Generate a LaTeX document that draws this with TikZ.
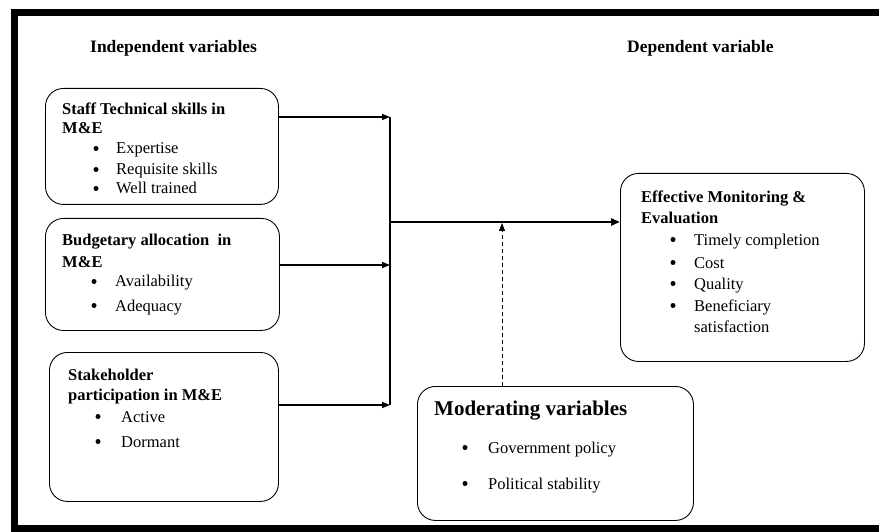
\documentclass[tikz,border=0pt]{standalone}
\usepackage{fontspec}
\setmainfont{Liberation Serif}
\usetikzlibrary{arrows.meta,positioning}

\tikzset{
  varbox/.style={draw, rounded corners=18pt, line width=0.9pt, inner sep=0pt, anchor=north west},
  headtext/.style={anchor=base west, inner sep=0pt, font=\fontsize{16.5}{20}\selectfont\bfseries},
  titletext/.style={anchor=base west, inner sep=0pt, font=\fontsize{17.5}{21}\selectfont\bfseries},
  itemtext/.style={anchor=base west, inner sep=0pt, font=\fontsize{16.5}{20}\selectfont},
  dot/.style={circle, fill, inner sep=0pt, minimum size=5pt},
  link/.style={-{Triangle[length=8pt,width=6pt]}, line width=1.4pt},
  mainlink/.style={-{Triangle[length=9pt,width=7pt]}, line width=2.2pt}
}

\begin{document}
\begin{tikzpicture}[x=1pt,y=-1pt]
		\useasboundingbox (0,0) rectangle (879,532);
		% Frame
		\draw[line width=7pt] (879,12.5) -- (14.5,12.5) -- (14.5,528.5) -- (879,528.5);
		% Titles
		\node[titletext] (indep) at (90,53) {Independent variables};
		\node[titletext] (dep) at (627,53) {Dependent variable};
		% Boxes
		\node[varbox, minimum width=233pt, minimum height=116pt] (staff) at (45,88) {};
		\node[varbox, minimum width=234pt, minimum height=112pt] (budget) at (45,218) {};
		\node[varbox, minimum width=229pt, minimum height=149pt] (stake) at (49,352) {};
		\node[varbox, minimum width=276pt, minimum height=134pt] (moder) at (417,386) {};
		\node[varbox, minimum width=244pt, minimum height=188pt] (effect) at (620,173) {};
		% Staff technical skills
		\node[headtext] (stafftop) at (62,115) {Staff Technical skills in};
		\node[headtext] (staffme) at (62,134) {M\&E};
		\foreach \i/\y/\txt in {1/154/Expertise, 2/175/Requisite skills, 3/194/Well trained} {
			\node[dot] (staffdot\i) at (96,{\y-5.5}) {};
			\node[itemtext] (staffitem\i) at (116,\y) {\txt};
		}
		% Budgetary allocation
		\node[headtext] (budgettop) at (62,245) {Budgetary allocation\ \ in};
		\node[headtext] (budgetme) at (62,267) {M\&E};
		\foreach \i/\y/\txt in {1/287/Availability, 2/311/Adequacy} {
			\node[dot] (budgetdot\i) at (94,{\y-5.5}) {};
			\node[itemtext] (budgetitem\i) at (115,\y) {\txt};
		}
		% Stakeholder participation
		\node[headtext] (staketop) at (68,380) {Stakeholder};
		\node[headtext] (stakeme) at (68,400) {participation in M\&E};
		\foreach \i/\y/\txt in {1/422/Active, 2/447/Dormant} {
			\node[dot] (stakedot\i) at (98,{\y-5.5}) {};
			\node[itemtext] (stakeitem\i) at (121,\y) {\txt};
		}
		% Moderating variables
		\node[headtext, font=\fontsize{21}{25}\selectfont\bfseries] (modertop) at (434,415) {Moderating variables};
		\foreach \i/\y/\txt in {1/453/Government policy, 2/489/Political stability} {
			\node[dot] (moderdot\i) at (465,{\y-5.5}) {};
			\node[itemtext] (moderitem\i) at (488,\y) {\txt};
		}
		% Effective M&E
		\node[headtext] (effecttop) at (641,203) {Effective Monitoring \&};
		\node[headtext] (effectev) at (641,223) {Evaluation};
		\foreach \i/\y/\txt in {1/245/Timely completion, 2/268/Cost, 3/289/Quality, 4/311/Beneficiary} {
			\node[dot] (effectdot\i) at (673,{\y-5.5}) {};
			\node[itemtext] (effectitem\i) at (694,\y) {\txt};
		}
		\node[itemtext] (effectitem5) at (694,332) {satisfaction};
		% Edges
		\coordinate (joinA) at (390,117);
		\coordinate (joinB) at (390,265);
		\coordinate (joinC) at (390,405);
		\coordinate (joinM) at (390,222);
		\coordinate (modjoin) at (502,223);
		\draw[link] (joinA -| staff.east) -- (joinA);
		\draw[link] (joinB -| budget.east) -- (joinB);
		\draw[link] (joinC -| stake.east) -- (joinC);
		\draw[line width=1.4pt] (joinA) -- (joinC);
		\draw[mainlink] (joinM) -- (joinM -| effect.west);
		\draw[link, line width=0.9pt, dash pattern=on 4pt off 3pt] (modjoin |- moder.north) -- (modjoin);
	\end{tikzpicture}
\end{document}
